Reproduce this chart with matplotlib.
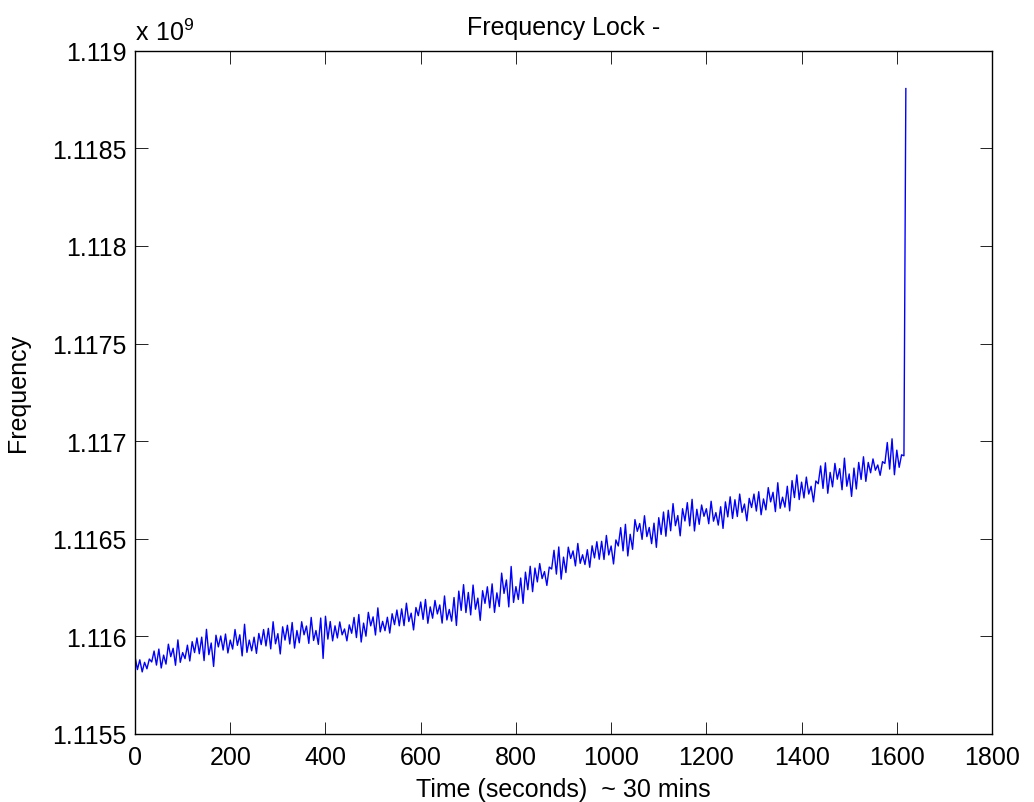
import numpy as np
import matplotlib
matplotlib.use('Agg')
import matplotlib.pyplot as plt
from matplotlib.ticker import FormatStrFormatter

plt.rcParams['font.family'] = ['Liberation Sans', 'DejaVu Sans']

freq_mhz = [
    1115.896, 1115.830, 1115.880, 1115.818, 1115.867, 1115.834, 1115.884,
    1115.869, 1115.925, 1115.853, 1115.935, 1115.838, 1115.904, 1115.858,
    1115.960, 1115.896, 1115.939, 1115.852, 1115.982, 1115.867, 1115.917,
    1115.886, 1115.955, 1115.874, 1115.973, 1115.917, 1115.992, 1115.911,
    1115.996, 1115.876, 1116.036, 1115.906, 1115.966, 1115.846, 1116.006,
    1115.946, 1116.002, 1115.930, 1116.012, 1115.915, 1115.981, 1115.935,
    1116.035, 1115.954, 1116.008, 1115.900, 1116.062, 1115.918, 1115.981,
    1115.926, 1115.996, 1115.913, 1116.015, 1115.958, 1116.035, 1115.951,
    1116.041, 1115.936, 1116.075, 1115.962, 1116.014, 1115.910, 1116.049,
    1115.981, 1116.057, 1115.961, 1116.071, 1115.940, 1116.030, 1115.967,
    1116.075, 1116.008, 1116.053, 1115.964, 1116.097, 1115.979, 1116.030,
    1115.959, 1116.094, 1115.887, 1116.103, 1115.986, 1116.076, 1115.977,
    1116.054, 1115.992, 1116.074, 1116.008, 1116.038, 1115.977, 1116.059,
    1116.016, 1116.097, 1115.994, 1116.112, 1115.971, 1116.068, 1116.001,
    1116.123, 1116.054, 1116.100, 1116.007, 1116.146, 1116.023, 1116.077,
    1116.029, 1116.098, 1116.017, 1116.116, 1116.060, 1116.135, 1116.054,
    1116.141, 1116.055, 1116.170, 1116.076, 1116.119, 1116.033, 1116.148,
    1116.106, 1116.176, 1116.087, 1116.189, 1116.067, 1116.151, 1116.093,
    1116.184, 1116.115, 1116.161, 1116.068, 1116.207, 1116.084, 1116.138,
    1116.078, 1116.199, 1116.056, 1116.232, 1116.133, 1116.265, 1116.122,
    1116.225, 1116.110, 1116.263, 1116.139, 1116.196, 1116.082, 1116.234,
    1116.169, 1116.254, 1116.146, 1116.269, 1116.123, 1116.223, 1116.153,
    1116.324, 1116.220, 1116.289, 1116.151, 1116.358, 1116.174, 1116.255,
    1116.189, 1116.299, 1116.169, 1116.329, 1116.239, 1116.359, 1116.229,
    1116.350, 1116.279, 1116.373, 1116.296, 1116.332, 1116.261, 1116.355,
    1116.345, 1116.441, 1116.319, 1116.458, 1116.293, 1116.406, 1116.327,
    1116.457, 1116.399, 1116.438, 1116.361, 1116.476, 1116.374, 1116.418,
    1116.368, 1116.444, 1116.354, 1116.464, 1116.402, 1116.485, 1116.395,
    1116.487, 1116.394, 1116.517, 1116.417, 1116.463, 1116.371, 1116.494,
    1116.463, 1116.557, 1116.438, 1116.574, 1116.412, 1116.523, 1116.446,
    1116.598, 1116.538, 1116.578, 1116.497, 1116.618, 1116.511, 1116.558,
    1116.475, 1116.580, 1116.456, 1116.608, 1116.522, 1116.637, 1116.513,
    1116.646, 1116.541, 1116.680, 1116.567, 1116.619, 1116.515, 1116.654,
    1116.591, 1116.685, 1116.566, 1116.702, 1116.540, 1116.651, 1116.574,
    1116.673, 1116.615, 1116.654, 1116.577, 1116.692, 1116.590, 1116.634,
    1116.570, 1116.664, 1116.553, 1116.689, 1116.612, 1116.715, 1116.604,
    1116.700, 1116.614, 1116.729, 1116.635, 1116.678, 1116.592, 1116.707,
    1116.660, 1116.729, 1116.642, 1116.741, 1116.623, 1116.704, 1116.648,
    1116.762, 1116.689, 1116.738, 1116.639, 1116.787, 1116.656, 1116.713,
    1116.662, 1116.769, 1116.643, 1116.798, 1116.711, 1116.827, 1116.701,
    1116.790, 1116.709, 1116.816, 1116.729, 1116.769, 1116.689, 1116.796,
    1116.782, 1116.873, 1116.758, 1116.889, 1116.733, 1116.840, 1116.766,
    1116.886, 1116.805, 1116.859, 1116.751, 1116.913, 1116.769, 1116.832,
    1116.717, 1116.862, 1116.755, 1116.891, 1116.804, 1116.920, 1116.794,
    1116.891, 1116.838, 1116.909, 1116.851, 1116.878, 1116.825, 1116.895,
    1116.886, 1116.993, 1116.857, 1117.012, 1116.828, 1116.954, 1116.866,
    1116.930, 1116.925,
]
# ultimo punto: el salto final
salto_t = 1619
salto_mhz = 1118.806
paso_s = 5

tiempo = list(np.arange(len(freq_mhz)) * paso_s) + [salto_t]
freq = np.array(freq_mhz + [salto_mhz]) / 1000.0  # en unidades de 10^9 Hz

fig = plt.figure(figsize=(10.34, 8.03), dpi=100)
ax = fig.add_axes([0.1306, 0.0847, 0.8288, 0.8509])
ax.plot(tiempo, freq, color=(0, 0, 1), linewidth=1.0)

ax.set_xlim(0, 1800)
ax.set_ylim(1.1155, 1.119)
ax.set_xticks(np.arange(0, 1801, 200))
ax.set_yticks(np.arange(1.1155, 1.11901, 0.0005))
ax.yaxis.set_major_formatter(FormatStrFormatter('%g'))
ax.tick_params(direction='in', length=9, width=0.6, top=True, right=True,
               labelsize=18, colors='black')
ax.tick_params(axis='x', pad=8)
ax.tick_params(axis='y', pad=6)
for s in ax.spines.values():
    s.set_linewidth(1.0)

ax.set_title('Frequency Lock -', fontsize=18, pad=12)
ax.set_xlabel('Time (seconds)  ~ 30 mins', fontsize=18, labelpad=6)
ax.set_ylabel('Frequency', fontsize=18, labelpad=16)
ax.text(0.0, 1.008, r'$\mathregular{x\ 10^{9}}$', transform=ax.transAxes,
        fontsize=18, ha='left', va='bottom')

plt.savefig('out.png', dpi=100)
